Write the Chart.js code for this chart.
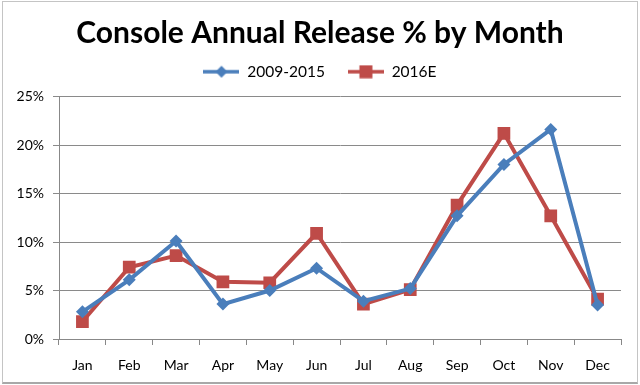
<!DOCTYPE html>
<html><head><meta charset="utf-8">
<script src="https://cdn.jsdelivr.net/npm/chart.js@4"></script>
<style>
html,body{margin:0;padding:0;background:#fff;}
#wrap{position:relative;width:640px;height:385px;}
canvas{display:block;position:absolute;left:0;top:0;}
#frame{position:absolute;left:2px;top:1px;width:634px;height:380px;border:1px solid #c4c4c4;border-bottom:2px solid #a8a8a8;pointer-events:none;}
</style></head><body>
<div id="wrap"><canvas id="c" width="640" height="385"></canvas><div id="frame"></div></div>
<script>
const months = ["Jan","Feb","Mar","Apr","May","Jun","Jul","Aug","Sep","Oct","Nov","Dec"];
const series2009_2015 = [2.8, 6.1, 10.1, 3.6, 5.0, 7.3, 3.9, 5.2, 12.7, 18.0, 21.6, 3.5];
const series2016E = [1.8, 7.4, 8.6, 5.9, 5.8, 10.9, 3.6, 5.1, 13.8, 21.2, 12.7, 4.1];
const yTicks = [0, 5, 10, 15, 20, 25];

const BLUE = '#4a7ebb', RED = '#be4b48';

function legendIcon(color, shape){
  const c = document.createElement('canvas');
  c.width = 36; c.height = 14;
  const g = c.getContext('2d');
  g.strokeStyle = color; g.lineWidth = 3.5;
  g.beginPath(); g.moveTo(0,7); g.lineTo(36,7); g.stroke();
  g.fillStyle = color;
  const cx = 18;
  if (shape === 'diamond'){
    g.beginPath(); g.moveTo(cx,1); g.lineTo(cx+6,7); g.lineTo(cx,13); g.lineTo(cx-6,7); g.closePath(); g.fill();
  } else {
    g.fillRect(cx-6.5,0.5,13,13);
  }
  return c;
}

new Chart(document.getElementById('c'), {
  type: 'line',
  data: {
    labels: months,
    datasets: [
      {label:'2009-2015', data: series2009_2015, borderColor: BLUE, backgroundColor: BLUE, borderWidth: 4,
       pointStyle:'rectRot', pointRadius:6.5, pointHoverRadius:6.5, tension:0, pointBorderWidth:0},
      {label:'2016E', data: series2016E, borderColor: RED, backgroundColor: RED, borderWidth: 4,
       pointStyle:'rect', pointRadius:9, pointHoverRadius:9, tension:0, pointBorderWidth:0}
    ]
  },
  options: {
    responsive:false, animation:false,
    layout:{padding:{left:0, right:0, top:0, bottom:0}},
    plugins:{
      title:{display:true, text:'Console Annual Release % by Month', color:'#000',
        font:{family:'Lato', size:30, weight:'bold'}, padding:{top:15, bottom:-10}},
      subtitle:{display:true, text:'', weight:500, font:{size:5}, padding:{top:1, bottom:0}},
      legend:{display:true, labels:{
        usePointStyle:true, pointStyleWidth:36, color:'#000', font:{family:'Lato', size:15.5}, boxHeight:14, padding:23,
        generateLabels(chart){
          return [
            {text:'2009-2015', pointStyle: legendIcon(BLUE,'diamond'), datasetIndex:0, fontColor:'#000', lineWidth:0, strokeStyle:'transparent', fillStyle:'transparent'},
            {text:'2016E', pointStyle: legendIcon(RED,'square'), datasetIndex:1, fontColor:'#000', lineWidth:0, strokeStyle:'transparent', fillStyle:'transparent'}
          ];
        }}},
      tooltip:{enabled:false}
    },
    scales:{
      x:{
        offset:true,
        afterFit(s){ s.height = 46; },
        grid:{display:true, drawOnChartArea:false, drawTicks:true, tickLength:6, offset:true, color:'#888'},
        border:{display:true, color:'#888', width:1},
        ticks:{color:'#000', font:{family:'Lato', size:14}, padding:12, maxRotation:0}
      },
      y:{
        min:0, max:25,
        afterFit(s){ s.width = 59; },
        afterBuildTicks(s){ s.ticks = yTicks.map(v=>({value:v})); },
        grid:{color:'#8a8a8a', lineWidth:1, drawTicks:true, tickLength:6},
        border:{display:true, color:'#888', width:1},
        ticks:{color:'#000', font:{family:'Lato', size:14}, padding:9, callback:v=>v+'%'}
      },
      yRight:{
        type:'linear', position:'right', display:true,
        afterFit(s){ s.width = 19; },
        grid:{display:false, drawTicks:false},
        border:{display:false},
        ticks:{display:false}
      }
    }
  }
});
</script></body></html>
